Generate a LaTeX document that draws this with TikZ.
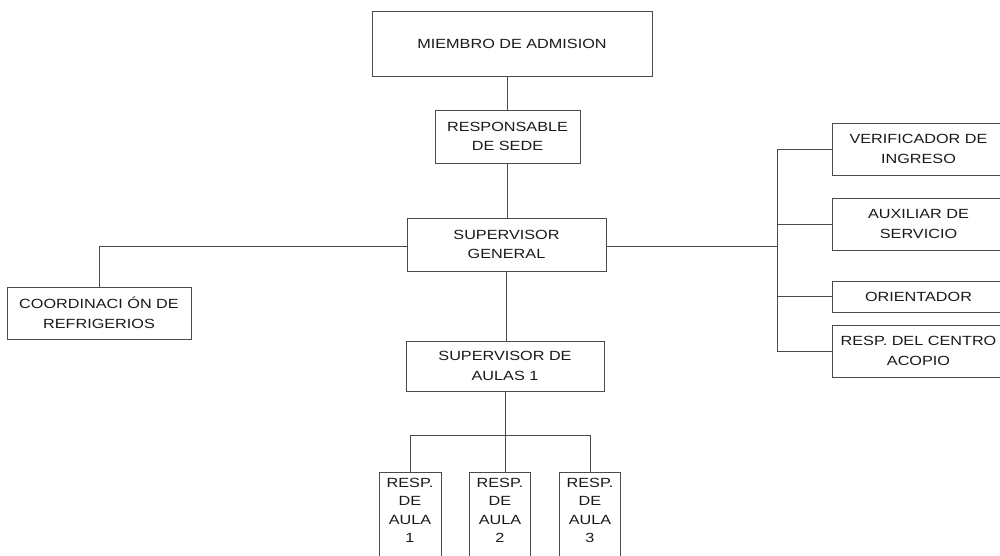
\documentclass[tikz,border=0pt]{standalone}
\usepackage{fontspec}
\setmainfont{Liberation Sans}[FakeStretch=1.22]
\definecolor{linec}{HTML}{4A4A4A}
\definecolor{txt}{HTML}{1A1A1A}
\newcommand{\fsz}{\fontsize{13.3}{19.5}\selectfont}
\newcommand{\fsr}{\fontsize{13.3}{18.5}\selectfont}
\tikzset{
  box/.style={draw=linec, line width=1pt, rectangle, inner sep=0pt, align=center, font=\fsz, text=txt},
  plain/.style={inner sep=0pt, align=center, font=\fsr, text=txt},
  conn/.style={draw=linec, line width=1pt}
}
\begin{document}
\begin{tikzpicture}[x=1pt,y=-1pt]
\useasboundingbox[fill=white] (0,0) rectangle (1000,555);
% main column
\node[box, minimum width=280pt, minimum height=65pt] (miembro) at (512,43.5) {MIEMBRO DE ADMISION};
\node[box, minimum width=145pt, minimum height=53pt] (resp) at (507.5,136.5) {RESPONSABLE\\DE SEDE};
\node[box, minimum width=199pt, minimum height=53pt] (sg) at (506.5,244.5) {SUPERVISOR\\GENERAL};
\node[box, minimum width=184pt, minimum height=52pt] (coord) at (99,313) {COORDINACI ÓN DE\\REFRIGERIOS};
\node[box, minimum width=198pt, minimum height=50pt] (sda) at (505,366) {SUPERVISOR DE\\AULAS 1};
% right column
\node[box, minimum width=173pt, minimum height=52pt] (verif) at (918.5,149) {VERIFICADOR DE\\INGRESO};
\node[box, minimum width=173pt, minimum height=52pt] (aux) at (918.5,224) {AUXILIAR DE\\SERVICIO};
\node[box, minimum width=173pt, minimum height=31pt] (orient) at (918.5,296.5) {ORIENTADOR};
\node[box, minimum width=173pt, minimum height=52pt] (centro) at (918.5,351) {RESP. DEL CENTRO\\ACOPIO};
% bottom boxes
\node[box, minimum width=62pt, minimum height=93pt] (r1) at (410,518.5) {};
\node[box, minimum width=61pt, minimum height=93pt] (r2) at (500,518.5) {};
\node[box, minimum width=61pt, minimum height=93pt] (r3) at (590,518.5) {};
\node[plain] (r1t) at (410,510.5) {RESP.\\DE\\AULA\\1};
\node[plain] (r2t) at (500,510.5) {RESP.\\DE\\AULA\\2};
\node[plain] (r3t) at (590,510.5) {RESP.\\DE\\AULA\\3};
% coordinates
\coordinate (hl) at (99,246);
\coordinate (bt) at (777,149);
\coordinate (bm) at (777,246);
\coordinate (bb) at (777,351);
\coordinate (ab) at (505,435);
% connectors
\draw[conn] (resp.north) -- (resp.north |- miembro.south);
\draw[conn] (resp.south) -- (resp.south |- sg.north);
\draw[conn] (sg.west |- hl) -- (hl) -- (coord.north);
\draw[conn] (sg.east |- bm) -- (bm);
\draw[conn] (bt) -- (bb);
\draw[conn] (bt) -- (verif.west);
\draw[conn] (bt |- aux.west) -- (aux.west);
\draw[conn] (bt |- orient.west) -- (orient.west);
\draw[conn] (bb) -- (centro.west);
\draw[conn] (sg.south) -- (sg.south |- sda.north);
\draw[conn] (sda.south) -- (ab);
\draw[conn] (r1.north) -- (r1.north |- ab) -- (r3.north |- ab) -- (r3.north);
\draw[conn] (ab) -- (ab |- r2.north);
\end{tikzpicture}
\end{document}
